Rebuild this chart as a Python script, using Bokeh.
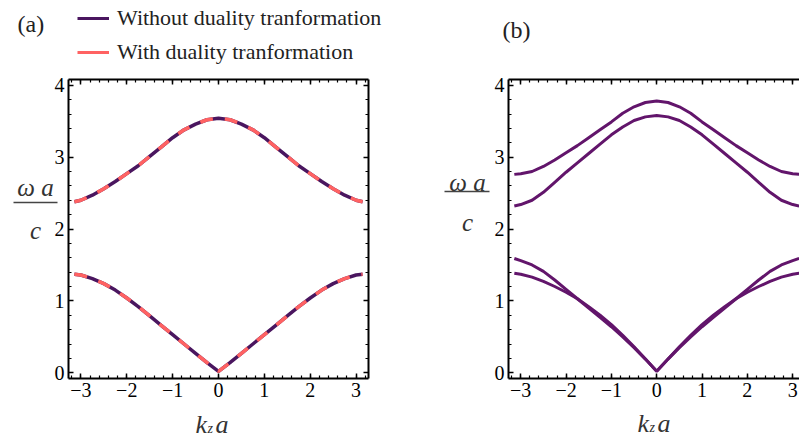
import numpy as np
from bokeh.plotting import figure
from bokeh.models import (FixedTicker, LinearAxis, Label, Legend, LegendItem,
                          BoxAnnotation, Range1d, GridBox)
from bokeh.embed import file_html
from bokeh.resources import INLINE

PI = float(np.pi)

# ---- data, k >= 0 half, mirrored below ----
k_half = [0.0, 0.25, 0.5, 0.75, 1.0, 1.25, 1.5, 1.75, 2.0, 2.25, 2.5, 2.75, 3.0, PI]

# panel (a)
a_upper = [3.54, 3.52, 3.46, 3.38, 3.27, 3.14, 3.01, 2.88, 2.77, 2.66, 2.56, 2.47, 2.40, 2.38]
a_lower = [0.02, 0.14, 0.27, 0.40, 0.53, 0.66, 0.79, 0.92, 1.04, 1.15, 1.24, 1.31, 1.36, 1.37]

# panel (b)
b_band1 = [0.02, 0.19, 0.36, 0.52, 0.67, 0.80, 0.92, 1.03, 1.12, 1.20, 1.27, 1.33, 1.37, 1.385]
b_band2 = [0.02, 0.19, 0.35, 0.50, 0.64, 0.77, 0.90, 1.03, 1.16, 1.29, 1.41, 1.50, 1.56, 1.59]
b_band3 = [3.58, 3.56, 3.51, 3.42, 3.31, 3.18, 3.05, 2.92, 2.79, 2.65, 2.51, 2.40, 2.34, 2.32]
b_band4 = [3.78, 3.76, 3.70, 3.61, 3.49, 3.38, 3.27, 3.16, 3.06, 2.96, 2.87, 2.80, 2.77, 2.76]

x_ticks = [-3, -2, -1, 0, 1, 2, 3]
x_tick_labels = ["\u22123", "\u22122", "\u22121", "0", "1", "2", "3"]
y_ticks = [0, 1, 2, 3, 4]
y_tick_labels = ["0", "1", "2", "3", "4"]
legend_labels = ["Without duality tranformation", "With duality tranformation"]
panel_labels = ["(a)", "(b)"]


def mirror_k(h):
    return [-v for v in reversed(h[1:])] + list(h)


def mirror_v(h):
    return list(reversed(h[1:])) + list(h)


k_full = mirror_k(k_half)

FONT = "Liberation Serif"
PURPLE_A = "#4a165f"
RED = "#ff6262"
PURPLE_B = "#62156b"
LABEL_C = "#333333"
W, H = 799, 439


def make_fig(width, left_border, right_border, x_end, sides):
    p = figure(width=width, height=H,
               x_range=Range1d(-3.27, x_end), y_range=Range1d(-0.08, 4.08),
               output_backend="svg", toolbar_location=None,
               x_axis_location=None, y_axis_location=None,
               min_border_left=left_border, min_border_right=right_border,
               min_border_top=79, min_border_bottom=61)
    for g in p.grid:
        g.visible = False
    p.outline_line_color = None
    p.background_fill_color = "white"
    p.border_fill_color = "white"

    x_minor = [round(v, 2) for v in np.arange(-3.2, 3.21, 0.2)]
    y_minor = [round(v, 2) for v in np.arange(0.0, 4.01, 0.2)]
    for side in sides:
        if side in ("below", "above"):
            ticker = FixedTicker(ticks=x_ticks, minor_ticks=x_minor)
            labels = x_tick_labels if side == "below" else [""] * len(x_ticks)
            ovr = {t: l for t, l in zip(x_ticks, labels)}
        else:
            ticker = FixedTicker(ticks=y_ticks, minor_ticks=y_minor)
            labels = y_tick_labels if side == "left" else [""] * len(y_ticks)
            ovr = {t: l for t, l in zip(y_ticks, labels)}
        ax = LinearAxis(ticker=ticker, major_label_overrides=ovr)
        ax.axis_line_width = 2
        ax.axis_line_color = "black"
        ax.major_tick_in = 5
        ax.major_tick_out = 0
        ax.minor_tick_in = 3
        ax.minor_tick_out = 0
        ax.major_tick_line_width = 1.5
        ax.minor_tick_line_width = 1.2
        ax.major_label_standoff = 4
        ax.major_label_text_font = FONT
        ax.major_label_text_font_size = "20px"
        ax.major_label_text_color = "black"
        p.add_layout(ax, side)
    return p


# ---------------- panel (a) ----------------
pa = make_fig(400, 68, 32, 3.27, ["left", "below", "above", "right"])
pa.line(k_full, mirror_v(a_upper), line_color=PURPLE_A, line_width=3.5)
pa.line(k_full, mirror_v(a_lower), line_color=PURPLE_A, line_width=3.5)
pa.line(k_full, mirror_v(a_upper), line_color=RED, line_width=3.5, line_dash="13 12")
pa.line(k_full, mirror_v(a_lower), line_color=RED, line_width=3.5, line_dash="13 12")

# ---------------- panel (b) ----------------
pb = make_fig(399, 108, 0, 3.15, ["left", "below", "above"])
for band in (b_band1, b_band2, b_band3, b_band4):
    pb.line(k_full, mirror_v(band), line_color=PURPLE_B, line_width=3)

# ---------------- transparent overlay for texts outside the frames ----------------
ov = figure(width=W, height=H, x_range=Range1d(0, W), y_range=Range1d(H, 0),
            output_backend="svg", toolbar_location=None,
            x_axis_location=None, y_axis_location=None,
            min_border_left=0, min_border_right=0, min_border_top=0, min_border_bottom=0)
ov.frame_align = False
for g in ov.grid:
    g.visible = False
ov.outline_line_color = None
ov.background_fill_color = None
ov.border_fill_color = None

# legend key renderers: the same band data, mapped to a range that lies off the canvas
ov.extra_x_ranges = {"off": Range1d(1000, 2000)}
key_purple = ov.line(k_full, mirror_v(a_upper), x_range_name="off",
                     line_color=PURPLE_A, line_width=3)
key_red = ov.line(k_full, mirror_v(a_upper), x_range_name="off",
                  line_color=RED, line_width=3)
legend = Legend(items=[LegendItem(label=legend_labels[0], renderers=[key_purple]),
                       LegendItem(label=legend_labels[1], renderers=[key_red])],
                location=(77, H - 65), padding=0, spacing=8,
                glyph_width=32, glyph_height=26, label_height=26,
                label_standoff=8, label_text_font=FONT, label_text_font_size="22px",
                label_text_color="#222222",
                background_fill_alpha=0, border_line_alpha=0)
ov.add_layout(legend)


def add_label(x, y, text, size, italic=True, align="left", color=LABEL_C):
    ov.add_layout(Label(x=x, y=y, text=text, text_font=FONT, text_font_size=size,
                        text_font_style="italic" if italic else "normal",
                        text_align=align, text_baseline="alphabetic",
                        text_color=color))


def add_axis_titles(wa_x, wa_y, c_y, bar, k_x, k_y):
    add_label(wa_x, wa_y, "\u03c9 a", "25px", align="center")
    add_label(wa_x, c_y, "c", "25px", align="center")
    ov.add_layout(BoxAnnotation(left=bar[0], right=bar[1], top=bar[2] - 0.7, bottom=bar[2] + 0.7,
                                fill_color="#444444", fill_alpha=1.0, line_alpha=0))
    add_label(k_x, k_y, "k", "26px")
    add_label(k_x + 12, k_y + 4, "z", "14px")
    add_label(k_x + 20, k_y, "a", "26px")


add_label(17, 23, panel_labels[0], "24px", italic=False, color="#222222")
add_label(502, 29, panel_labels[1], "24px", italic=False, color="#222222")
add_axis_titles(35, 187, 230, (13, 57, 202), 195, 424)
add_axis_titles(467, 182, 222, (444, 489, 191), 637, 423)

layout = GridBox(children=[(pa, 0, 0), (pb, 0, 1), (ov, 0, 0, 1, 2)])
open("out.html", "w").write(file_html(layout, INLINE))
